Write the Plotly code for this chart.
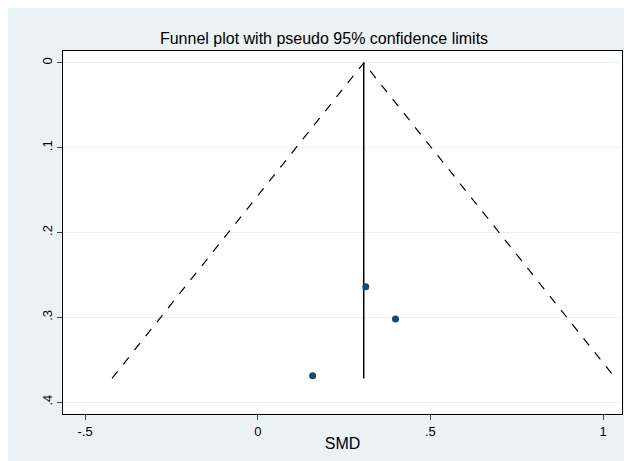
import plotly.graph_objects as go

smd = [0.313, 0.399, 0.159]
se = [0.264, 0.302, 0.369]
pooled = 0.307
se_max = 0.372

xt = [-0.5, 0, 0.5, 1]
xl = ["-.5", "0", ".5", "1"]
yt = [0, 0.1, 0.2, 0.3, 0.4]
yl = ["0", ".1", ".2", ".3", ".4"]

fig = go.Figure()
fig.add_trace(go.Scatter(x=[pooled - 1.96 * se_max, pooled, pooled + 1.96 * se_max],
                         y=[se_max, 0, se_max], mode="lines",
                         line=dict(color="black", dash="dash", width=1.2)))
fig.add_trace(go.Scatter(x=[pooled, pooled], y=[0, se_max], mode="lines",
                         line=dict(color="black", width=1.5)))
fig.add_trace(go.Scatter(x=smd, y=se, mode="markers",
                         marker=dict(color="#1a476f", size=7)))

fig.update_layout(
    width=632, height=461, showlegend=False,
    paper_bgcolor="#eaf2f3", plot_bgcolor="white",
    margin=dict(l=55, r=18, t=43, b=55),
    font=dict(family="Liberation Sans, Arial", size=13, color="black"),
    title=dict(text="Funnel plot with pseudo 95% confidence limits", x=0.5, xanchor="center",
               y=0.935, yanchor="middle", font=dict(size=16)),
)
fig.update_xaxes(range=[-0.564, 1.055], tickvals=xt, ticktext=xl, ticks="outside",
                 ticklen=5, showgrid=False, zeroline=False, showline=True, mirror=True,
                 linecolor="black", title=dict(text="SMD", standoff=0))
fig.update_yaxes(range=[0.414, -0.014], tickvals=yt, ticktext=yl, ticks="outside",
                 ticklen=5, tickangle=-90, showgrid=True, gridcolor="#eaf2f3",
                 zeroline=False, showline=True, mirror=True, linecolor="black")
fig.write_html("out.html")
